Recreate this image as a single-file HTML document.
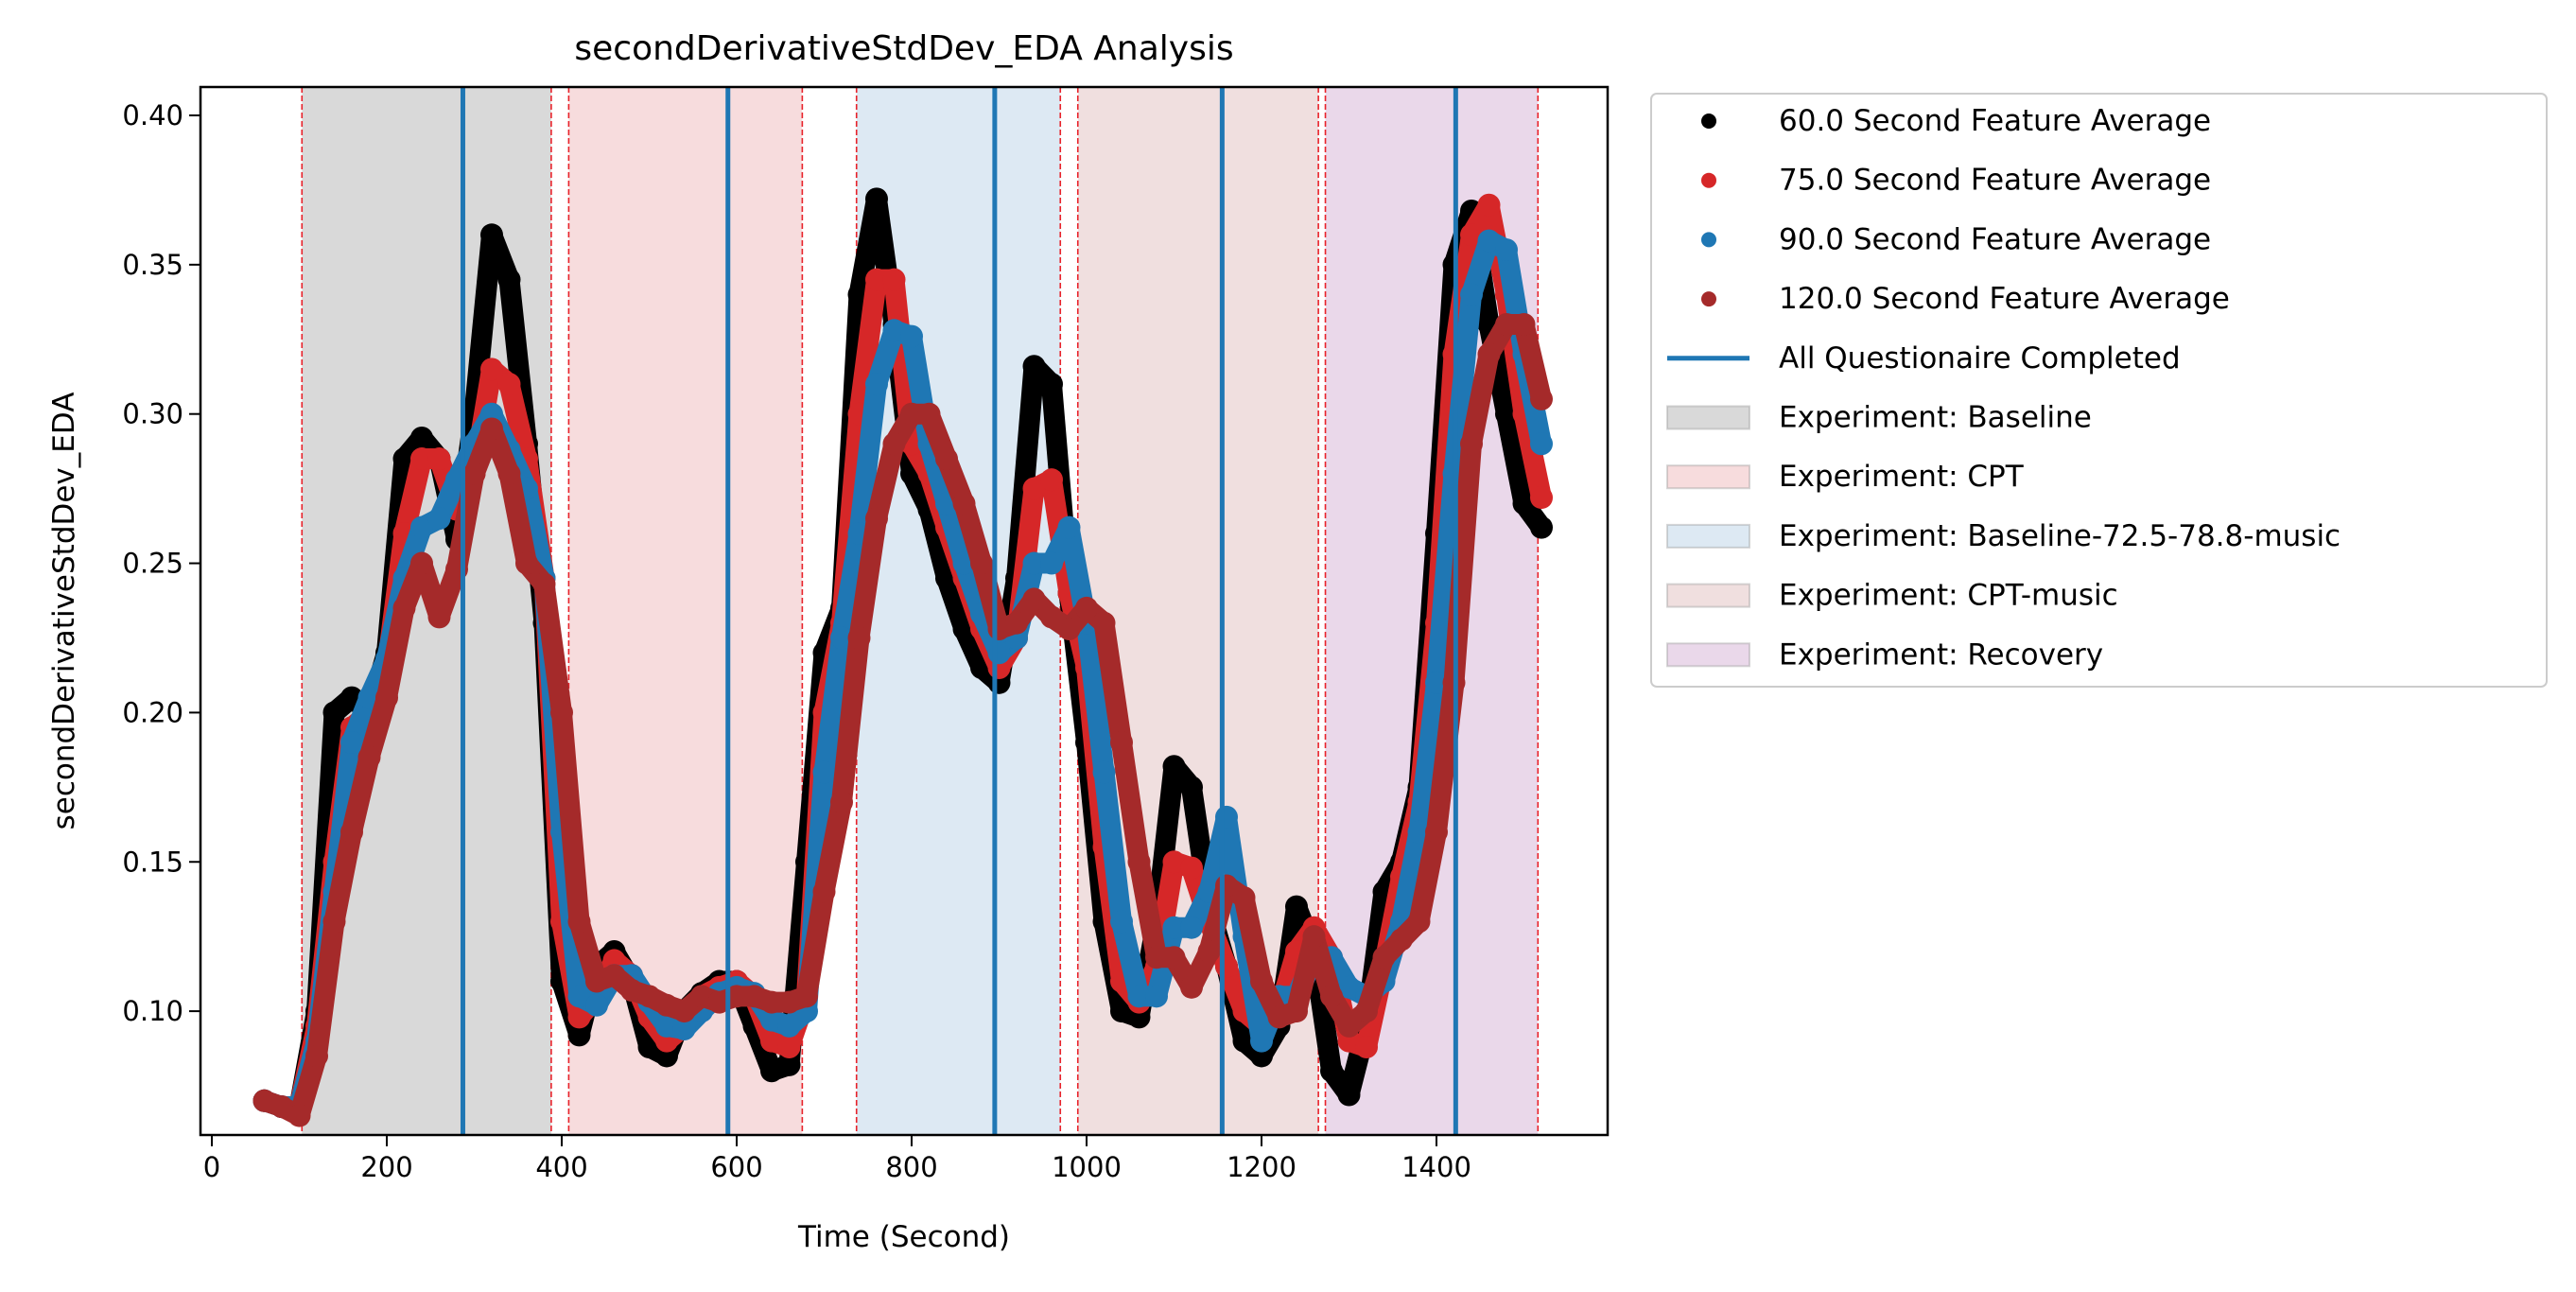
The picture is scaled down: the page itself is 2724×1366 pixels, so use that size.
<!DOCTYPE html>
<html><head><meta charset="utf-8"><style>
body{margin:0;background:#fff;}
svg text{font-family:"DejaVu Sans","Liberation Sans",sans-serif;fill:#000;}
</style></head><body>
<svg id="chart" width="2724" height="1361" xmlns="http://www.w3.org/2000/svg">
<g id="spans"></g><g id="series"></g><g id="vlines"></g><g id="axes"></g><g id="legend"></g>
</svg>
<script>
const times=[60,80,100,120,140,160,180,200,220,240,260,280,300,320,340,360,380,400,420,440,460,480,500,520,540,560,580,600,620,640,660,680,700,720,740,760,780,800,820,840,860,880,900,920,940,960,980,1000,1020,1040,1060,1080,1100,1120,1140,1160,1180,1200,1220,1240,1260,1280,1300,1320,1340,1360,1380,1400,1420,1440,1460,1480,1500,1520];
const s60=[.070,.068,.068,.100,.200,.205,.200,.220,.285,.292,.285,.258,.300,.360,.345,.290,.230,.110,.092,.115,.120,.110,.088,.085,.100,.106,.110,.110,.095,.080,.082,.150,.220,.235,.340,.372,.330,.280,.268,.245,.228,.215,.210,.245,.316,.310,.240,.190,.130,.100,.098,.130,.182,.175,.135,.115,.090,.085,.095,.135,.120,.080,.072,.095,.140,.150,.175,.260,.350,.368,.330,.300,.270,.262];
const s75=[.070,.068,.068,.095,.150,.195,.200,.215,.260,.285,.285,.268,.280,.315,.310,.285,.245,.130,.098,.105,.117,.112,.098,.090,.095,.105,.108,.110,.105,.090,.088,.105,.200,.230,.300,.345,.345,.290,.280,.262,.245,.228,.215,.225,.275,.278,.240,.215,.155,.110,.103,.115,.150,.148,.130,.115,.100,.095,.100,.120,.128,.118,.090,.088,.115,.145,.170,.230,.320,.360,.370,.340,.300,.272];
const s90=[.070,.068,.068,.090,.140,.190,.205,.218,.245,.262,.265,.278,.290,.300,.288,.275,.245,.160,.105,.102,.112,.112,.103,.095,.094,.100,.106,.108,.106,.097,.095,.100,.180,.225,.260,.310,.328,.326,.290,.270,.250,.233,.220,.225,.250,.250,.262,.230,.180,.130,.105,.105,.128,.128,.140,.165,.125,.090,.105,.105,.118,.118,.108,.105,.110,.130,.160,.210,.280,.340,.358,.355,.320,.290];
const s120=[.070,.068,.065,.085,.130,.160,.185,.205,.235,.250,.232,.248,.280,.295,.280,.250,.243,.200,.130,.110,.112,.107,.105,.102,.100,.105,.103,.105,.105,.103,.103,.105,.140,.170,.225,.265,.290,.300,.300,.285,.270,.250,.228,.230,.238,.232,.228,.235,.230,.190,.150,.118,.118,.108,.120,.142,.138,.110,.098,.100,.125,.105,.095,.100,.118,.124,.130,.160,.210,.290,.320,.330,.330,.305];
const questionnaireTimes=[287,590,895,1155,1422];
const spanStarts=[103,408,737,990,1273];
const spanEnds=[388,675,970,1265,1516];
const spanLabels=["Baseline","CPT","Baseline-72.5-78.8-music","CPT-music","Recovery"];
const spanColors=["#d9d9d9","#f7dcdd","#dde9f3","#f0dfdf","#ead8ea"];
const xTicks=[0,200,400,600,800,1000,1200,1400];
const yTicks=[0.10,0.15,0.20,0.25,0.30,0.35,0.40];
const seriesLabels=["60.0 Second Feature Average","75.0 Second Feature Average","90.0 Second Feature Average","120.0 Second Feature Average"];
const seriesColors=["#000000","#d62728","#1f77b4","#a52a2a"];

const L=212,R=1700,T=92,B=1200;
const xs=s=>224+0.925*s;
const ys=v=>122+(0.40-v)*3157;
const NS="http://www.w3.org/2000/svg";
function mk(tag,attrs,parent){const e=document.createElementNS(NS,tag);for(const k in attrs)e.setAttribute(k,attrs[k]);parent.appendChild(e);return e;}
const gS=document.getElementById('spans'),gSe=document.getElementById('series'),gV=document.getElementById('vlines'),gA=document.getElementById('axes'),gL=document.getElementById('legend');

spanStarts.forEach((st,i)=>{
  const r=mk('rect',{x:xs(st),y:T,width:xs(spanEnds[i])-xs(st),height:B-T,fill:spanColors[i]},gS);
  
  
  [st,spanEnds[i]].forEach(t=>{
    const l=mk('line',{x1:xs(t),x2:xs(t),y1:T,y2:B,stroke:'#e8222a','stroke-width':1.6,'stroke-dasharray':'6,3'},gS);
    
    
  });
});

const allSeries=[s60,s75,s90,s120];
allSeries.forEach((arr,si)=>{
  const g=mk('g',{},gSe);
  
  
  const pts=arr.map((v,i)=>xs(times[i])+','+ys(v)).join(' ');
  const w=si===0?22:22;
  mk('polyline',{points:pts,fill:'none',stroke:seriesColors[si],'stroke-width':w,'stroke-linejoin':'round','stroke-linecap':'round'},g);
  arr.forEach((v,i)=>{
    const c=mk('circle',{cx:xs(times[i]),cy:ys(v),r:w/2+1,fill:seriesColors[si]},g);
    
    
  });
});

questionnaireTimes.forEach(t=>{
  const l=mk('line',{x1:xs(t),x2:xs(t),y1:T,y2:B,stroke:'#1f77b4','stroke-width':5},gV);
  
  
});

const fr=mk('rect',{x:L,y:T,width:R-L,height:B-T,fill:'none',stroke:'#000','stroke-width':2.5},gA);


xTicks.forEach(t=>{
  mk('line',{x1:xs(t),x2:xs(t),y1:B,y2:B+12,stroke:'#000','stroke-width':2},gA);
  const tx=mk('text',{x:xs(t),y:B+44,'font-size':29,'text-anchor':'middle'},gA);
  tx.textContent=t;
  
  
});
yTicks.forEach(t=>{
  mk('line',{x1:L-12,x2:L,y1:ys(t),y2:ys(t),stroke:'#000','stroke-width':2},gA);
  const tx=mk('text',{x:L-18,y:ys(t)+10,'font-size':29,'text-anchor':'end'},gA);
  tx.textContent=t.toFixed(2);
  
  
});
let e=mk('text',{x:(L+R)/2,y:63,'font-size':36,'text-anchor':'middle'},gA);
e.textContent='secondDerivativeStdDev_EDA Analysis';


e=mk('text',{x:(L+R)/2,y:1318,'font-size':31,'text-anchor':'middle'},gA);
e.textContent='Time (Second)';


e=mk('text',{x:0,y:0,'font-size':31,'text-anchor':'middle',transform:'translate(78,'+((T+B)/2)+') rotate(-90)'},gA);
e.textContent='secondDerivativeStdDev_EDA';



const lb=mk('rect',{x:1746,y:99,width:947,height:627,rx:6,fill:'#fff',stroke:'#ccc','stroke-width':2},gL);


const rowY=i=>128+i*62.7;
seriesLabels.forEach((lab,i)=>{
  const g=mk('g',{},gL);
  
  
  mk('circle',{cx:1807,cy:rowY(i),r:8,fill:seriesColors[i]},g);
  const t=mk('text',{x:1881,y:rowY(i)+10,'font-size':31},g);t.textContent=lab;
});
{
  const g=mk('g',{},gL);
  
  
  mk('line',{x1:1763,x2:1850,y1:rowY(4),y2:rowY(4),stroke:'#1f77b4','stroke-width':5},g);
  const t=mk('text',{x:1881,y:rowY(4)+10,'font-size':31},g);t.textContent='All Questionaire Completed';
}
spanLabels.forEach((lab,i)=>{
  const g=mk('g',{},gL);
  
  
  const y=rowY(5+i);
  mk('rect',{x:1763,y:y-12,width:87,height:24,fill:spanColors[i],stroke:'#999','stroke-opacity':0.4,'stroke-width':2},g);
  const t=mk('text',{x:1881,y:y+10,'font-size':31},g);t.textContent='Experiment: '+lab;
});
</script>
</body></html>
